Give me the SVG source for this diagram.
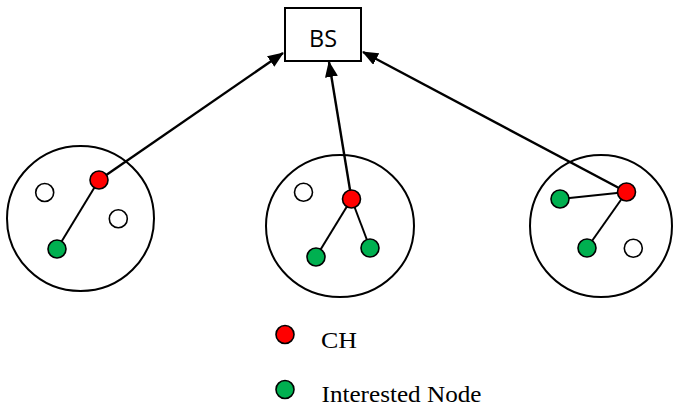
<svg xmlns="http://www.w3.org/2000/svg" width="673" height="407" viewBox="0 0 673 407">
<defs>
<marker id="ah" markerWidth="16" markerHeight="13" refX="15" refY="6.5" orient="auto" markerUnits="userSpaceOnUse">
<path d="M0,0 L16,6.5 L0,13 Z" fill="#000"/>
</marker>
<style>
.cl{fill:none;stroke:#000;stroke-width:2}
.n{stroke:#000;stroke-width:1.6}
.ch{fill:#ff0000}
.in{fill:#00b050}
.wh{fill:#fff}
.ln{stroke:#000;stroke-width:2;fill:none}
.ar{stroke:#000;stroke-width:2.4;fill:none;marker-end:url(#ah)}
.lg{font-family:"Liberation Serif","Times New Roman",serif;font-size:23px;fill:#000}
</style>
</defs>
<rect width="673" height="407" fill="#fff"/>
<g id="BS">
<rect x="285" y="8" width="76" height="53" fill="#fff" stroke="#000" stroke-width="2"/>
<text x="323" y="47" text-anchor="middle" font-family="'Open Sans','Liberation Sans',Arial,sans-serif" font-size="23" textLength="28" lengthAdjust="spacingAndGlyphs">BS</text>
</g>
<g id="connectors">
<line class="ar" x1="99" y1="180" x2="283" y2="53"/>
<line class="ar" x1="351.5" y1="199" x2="329" y2="62"/>
<line class="ar" x1="626.5" y1="192" x2="363" y2="52"/>
<line class="ln" x1="99" y1="180" x2="57" y2="249"/>
<line class="ln" x1="351.5" y1="199" x2="316" y2="257"/>
<line class="ln" x1="351.5" y1="199" x2="370" y2="248"/>
<line class="ln" x1="626.5" y1="192" x2="560" y2="199"/>
<line class="ln" x1="626.5" y1="192" x2="587" y2="248"/>
</g>
<g id="cluster1">
<ellipse class="cl" cx="80.5" cy="218.5" rx="73.5" ry="72.5"/>
<circle class="n wh" cx="44.7" cy="192.5" r="9"/>
<circle class="n wh" cx="118.3" cy="218.7" r="9"/>
<circle class="n in" cx="57" cy="249" r="9"/>
<circle class="n ch" cx="99" cy="180" r="9"/>
</g>
<g id="cluster2">
<ellipse class="cl" cx="340" cy="226" rx="74" ry="71"/>
<circle class="n wh" cx="303.5" cy="192.3" r="9"/>
<circle class="n in" cx="316" cy="257" r="9"/>
<circle class="n in" cx="370" cy="248" r="9"/>
<circle class="n ch" cx="351.5" cy="199" r="9"/>
</g>
<g id="cluster3">
<ellipse class="cl" cx="601" cy="226" rx="71" ry="71"/>
<circle class="n in" cx="560" cy="199" r="9"/>
<circle class="n in" cx="587" cy="248" r="9"/>
<circle class="n wh" cx="633.3" cy="248.3" r="9"/>
<circle class="n ch" cx="626.5" cy="192" r="9"/>
</g>
<g id="legend">
<circle class="n ch" cx="285" cy="334.5" r="9"/>
<text class="lg" x="321" y="348" textLength="36" lengthAdjust="spacingAndGlyphs">CH</text>
<circle class="n in" cx="285" cy="389.5" r="9"/>
<text class="lg" x="321.5" y="401.5" textLength="160" lengthAdjust="spacingAndGlyphs">Interested Node</text>
</g>
</svg>
